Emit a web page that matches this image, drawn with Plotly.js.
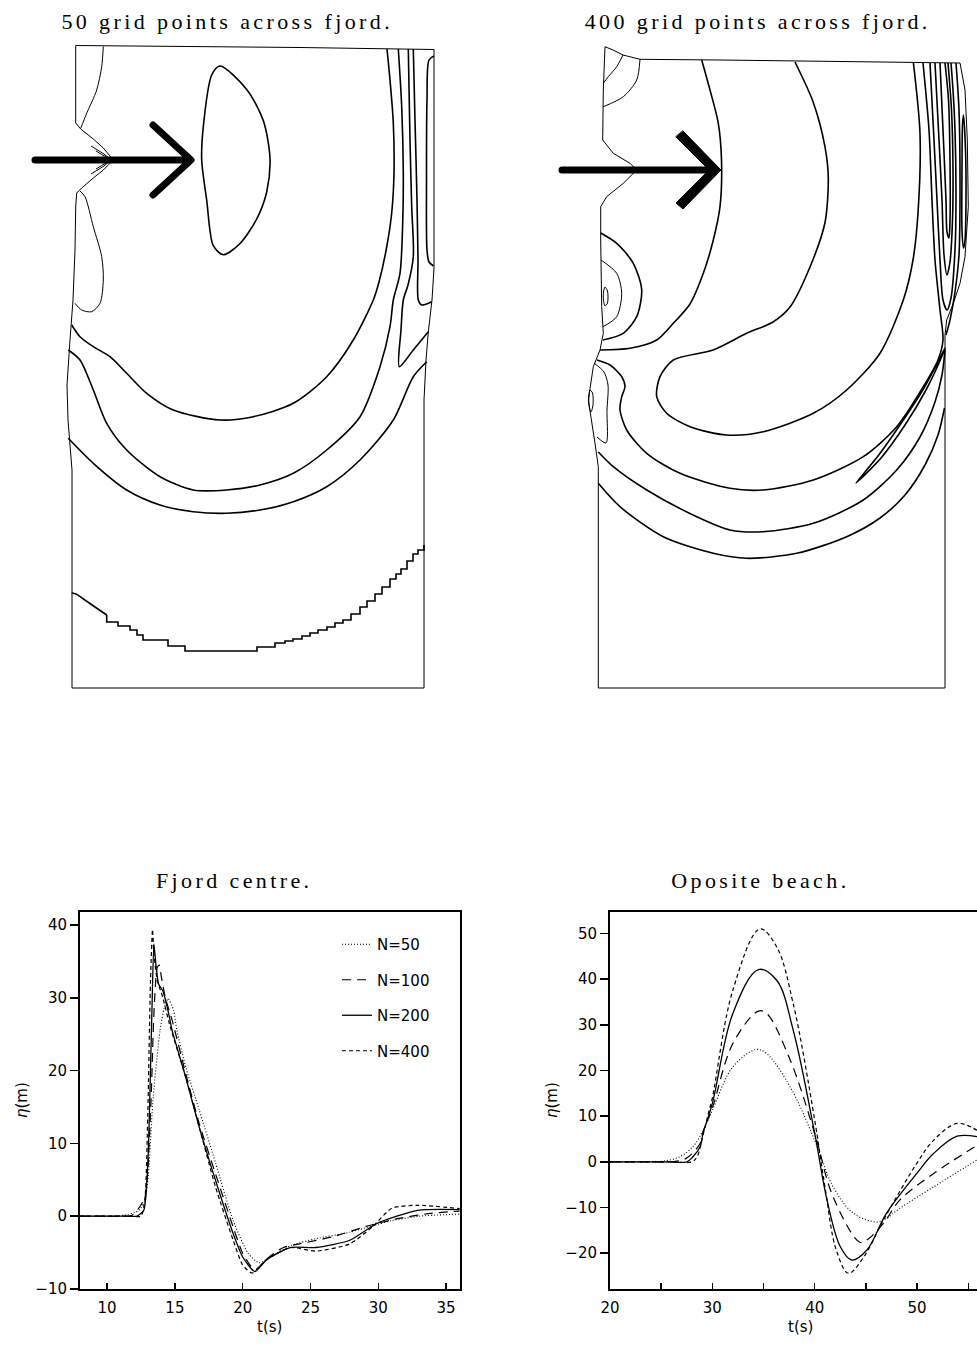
<!DOCTYPE html>
<html><head><meta charset="utf-8">
<script src="https://cdn.plot.ly/plotly-3.0.1.min.js"></script>
<style>
html,body{margin:0;padding:0;background:#fff;}
#chart{width:977px;height:1347px;}
.shapelayer path{stroke-linecap:round;stroke-linejoin:round;}
</style></head><body><div id="chart"></div><script>
// ---------- Time series: Fjord centre ----------
const t50_fc = [8,10.5,11.5,12.0,12.4,12.8,13.05,13.4,13.9,14.2,14.5,14.9,15.15,15.8,16.8,18.0,19.3,20.4,21.2,22.4,23.6,25.4,27.9,29.6,31,33,36];
const eta50_fc = [0,0,0.2,0.5,0.9,2.2,5.9,16.4,25.5,28.5,29.9,28.3,25.5,20.5,14.6,7.3,-0.6,-5.1,-6.4,-5.2,-4.0,-3.1,-2.2,-1.3,-0.6,0,0.3];
const t100_fc = [8,10,11,11.8,12.3,12.8,13.2,13.45,13.7,13.85,14.0,14.3,14.8,15.8,16.8,18.0,19.3,20.0,20.75,21.0,21.75,23.0,24.2,26.7,29.1,31.5,33.9,36];
const eta100_fc = [0,0,0,0.1,1.0,2.7,14,27.8,34.2,34.5,32.9,30,26.9,19.6,12.7,5.8,-1.5,-5.1,-7.2,-7.3,-5.9,-4.3,-3.8,-2.8,-1.4,-0.3,0.4,0.7];
const t200_fc = [8,10,11.5,12.2,12.7,13.0,13.3,13.45,13.6,13.8,14.1,14.5,14.8,15.8,16.8,18.0,19.3,20.0,20.9,21.75,23.5,25.4,27.9,29.9,32.9,36];
const eta200_fc = [0,0,0,0,0.8,7.2,27.8,37.4,34.6,31.9,31.0,28.2,25.5,19.1,12.2,4.9,-2.4,-5.6,-7.6,-6.0,-4.3,-4.3,-3.3,-1.0,0.8,0.9];
const t400_fc = [8,10,11.8,12.5,12.8,13.0,13.2,13.35,13.45,13.7,14.1,14.6,15.8,16.8,18.0,19.3,20.0,20.7,21.75,23.5,25.4,27.9,29.6,31.0,32.9,36];
const eta400_fc = [0,0,0,0,2.7,14,32.4,39.4,36.1,32.4,30.1,26.4,19.1,12.2,4.0,-3.3,-6.7,-7.8,-6.0,-4.3,-4.8,-3.8,-1.4,1.1,1.5,1.05];

// ---------- Time series: Opposite beach ----------
const t50_ob = [20,23,25,26.8,28.1,29.1,30,32,34.3,35.3,37.6,40,41.8,43.8,46.1,47,48.3,51.6,55.85];
const eta50_ob = [0,0,0.1,1.1,3.3,6.9,11.3,20.8,24.6,23.7,16.4,4.7,-5.5,-11.3,-13.2,-12.4,-10.2,-5.5,0.4];
const t100_ob = [20,24,26,27.4,28.8,29.1,30,32,34.5,35.3,37.6,40,41.8,44.4,45.1,46.7,48.3,51.6,55.85];
const eta100_ob = [0,0,0,0.7,4.0,6.6,11.8,25.9,33.0,32.5,22.3,6.2,-7.7,-17.6,-17.1,-13.5,-8.4,-2.6,3.6];
const t200_ob = [20,25.5,27.5,28.1,28.8,29.1,30,32,34.5,36.3,37.9,40,41.2,42.5,43.6,45.1,47,49.95,51.6,53.9,55.85];
const eta200_ob = [0,0,0,1.1,3.3,6.3,12.8,32.5,42.1,39.7,28.8,6.2,-8.4,-18.6,-21.5,-19.3,-11.3,-2.6,1.8,5.6,5.5];
const t400_ob = [20,26,28,28.5,29.1,29.6,30,32,34.65,36.3,37.9,40,41,42.1,43.3,44.8,46.7,49.95,51.6,53.9,55.85];
const eta400_ob = [0,0,0,1.1,6.0,10.5,14,37.6,51,47,34.6,9.1,-5.5,-19.3,-24.4,-20.8,-12.8,-0.4,4.7,8.4,6.9];

const seriesNames = ['N=50','N=100','N=200','N=400'];
const fcT = [t50_fc,t100_fc,t200_fc,t400_fc];
const fcE = [eta50_fc,eta100_fc,eta200_fc,eta400_fc];
const obT = [t50_ob,t100_ob,t200_ob,t400_ob];
const obE = [eta50_ob,eta100_ob,eta200_ob,eta400_ob];

const fcTicks = [-10,0,10,20,30,40];
const obTicks = [-20,-10,0,10,20,30,40,50];
const fcXTicks = [10,15,20,25,30,35];
const obXTicks = [20,25,30,35,40,45,50,55];
const obXText = ['20','','30','','40','','50',''];

// ---------- Contour maps (map coordinates, x across, y down) ----------
// N=50 panel
const outline50 = [[75.7,45.5],[200,46.5],[300,47.5],[434,49.5],[434,150],[434,268],[432,300],[428.3,332],[426,360],[424,400],[424,688],[72,688],[72,560],[72,470],[68,420],[67,385],[70,340],[73,300],[75,250],[75.7,207],[76.7,193],[81.7,188],[93.3,178],[103.3,170],[113.3,160],[103.3,148],[93.3,139],[80.7,129],[75.7,123],[75.7,45.5]];
const topLine50 = [[103.3,46.5],[101.7,66.7],[96.7,90],[86.7,113.3],[80.7,128.3]];
const lobe50 = [[80,191],[85,196.7],[93.3,226.7],[101.7,256.7],[103.3,280],[100,303.3],[91.7,311.7],[81.7,310],[75,303.3]];
const notch50a = [[91,146],[104,154],[111,160],[104,166],[91,174]];
const notch50b = [[96,151],[106,157],[109,160],[106,163],[96,169]];
const oval50 = [[220,66],[246.7,89.4],[263.3,120.6],[270,158.6],[266.7,192],[256.7,219],[240,243.5],[223.3,254.7],[213.3,245.7],[206.7,200],[201.7,160],[203.3,126.7],[211.7,75],[220,66]];
const arc1_50 = [[387,49],[390,80],[393.3,123],[394,173],[391.7,213],[386.7,247],[379,282],[373.3,300],[353.3,340],[326.7,376.7],[293.3,403.3],[253.3,416.7],[220,420],[173.3,410],[146.7,393.3],[126.7,373.3],[110,356.7],[93.3,346.7],[80,336.7],[71.7,325]];
const arc2_50 = [[398.3,49],[401.7,106.7],[403.3,173.3],[402.7,223.3],[400,273.3],[393.3,300],[390,326.7],[380,366.7],[360,416.7],[326.7,450],[293.3,473.3],[260,485],[226.7,490],[193.3,490],[160,476.7],[126.7,450],[106.7,423.3],[93.3,390],[80,360],[68.3,350]];
const arc3_50 = [[68.3,438.3],[93.3,463.3],[126.7,490],[160,505],[193.3,511.7],[226.7,513.3],[260,510],[293.3,501.7],[326.7,486.7],[360,460],[393.3,420],[413.3,376.7],[426.7,361.7]];
const vLine50 = [[408.3,49],[410,140],[411.7,206.7],[413.3,256.7],[408,285],[403.3,300],[401,330],[399.3,366.7],[413.3,350],[428.3,331.7]];
const dLine50 = [[413.3,49],[415,120],[417,200],[418,260],[418.3,300],[421.7,305],[431.7,301.7]];
const uLine50 = [[434,56],[429,60],[427,100],[426.5,180],[427,250],[429,262],[433.5,266]];
const stairA50 = [[71.7,593],[76,594],[82,598],[95,607],[106.7,615]];
const stairB50 = [[106.7,615],[106.7,622],[118,626],[130,630],[137,635],[143,640],[160,640],[168,646],[185,651],[257,651],[257,647],[275,643],[285,641],[293,639],[302,636],[310,633],[318,630],[327,627],[335,623],[343,620],[351,614],[360,607],[367,601],[375,594],[382,587],[390,579],[396,574],[401,569],[407,561],[413,554],[418,550],[424,545]];

// N=400 panel
const outline400 = [[605,46.7],[613,50],[623,55],[640,59.3],[720,60],[800,61],[900,62],[960,63],[965,90],[967.3,140],[968.3,206.7],[965,256.7],[960,283.3],[953.3,303.3],[946.7,320],[945,335],[945,688],[598.3,688],[598.3,510],[598.3,466.7],[595,443.3],[591.7,420],[588.3,400],[593.3,366.7],[600,350],[603.3,333.3],[601.7,306.7],[600.7,240],[600.7,206.7],[606.7,196.7],[623.3,183.3],[636.7,170],[630,163.3],[613.3,153.3],[602.7,140],[603.3,90],[605,46.7]];
const corner400a = [[640,59.3],[636.7,80],[623.3,96.7],[603.3,106.7]];
const corner400b = [[623,55],[616.7,66.7],[608.3,76.7],[603.3,83.3]];
const arcR1 = [[701.7,60],[710,90],[718.3,123.3],[721.5,160],[720,206.7],[713.3,240],[703.3,273.3],[690,304],[673.3,323.3],[656.7,340],[630,348.3],[600,350]];
const kidney = [[795,62],[813.3,102.4],[825,146.9],[828.3,178],[825,222.5],[810,267],[790,307],[773,322],[746.7,333.3],[713.3,350],[673.3,360],[660,376.7],[656.7,396.7],[666.7,413.3],[690,426.7],[726.7,435],[763.3,431.7],[813.3,413.3],[846.7,390],[880,353.3],[903.3,300],[913,260],[918,213],[920,133.5],[913.3,62]];
const lobeOut400 = [[600.7,233],[616.7,243.3],[633.3,263.3],[641.7,290],[636.7,316.7],[623.3,333.3],[603,340]];
const lobeIn400 = [[601,260],[616.7,273.3],[621.7,293.3],[616.7,316.7],[603,326.7]];
const lobeDot400 = [[605,287],[607.5,291],[607.5,303],[605,306],[603.5,300],[603.5,292],[605,287]];
const arcR3 = [[597,360],[610,365],[621.7,376.7],[625,386.7],[621.7,396.7],[620,410],[626.7,430],[646.7,453.3],[680,473.3],[730,488.3],[763.3,490],[813.3,480],[863.3,456.7],[896.7,426.7],[923.3,386.7],[938,360],[943,340],[940,310],[935,260],[932,200],[929,130],[923,63]];
const box400 = [[594,363],[604,372],[608,385],[607,410],[606,443],[597,437]];
const boxDot400 = [[590,390],[592.5,393],[593,405],[591,412],[589,405],[589,395],[590,390]];
const arcR4 = [[598.3,452],[613.3,466.7],[646.7,490],[696.7,516.7],[730,530],[763.3,531.7],[813.3,523.3],[863.3,500],[896.7,470],[920,437],[935,402],[942,375],[945,350]];
const arcR5 = [[598.3,483.3],[620,506.7],[663.3,536.7],[713.3,553.3],[746.7,558.3],[796.7,553.3],[846.7,536.7],[880,518],[905,495],[925,465],[938,435],[944.5,408]];
const sliver400 = [[856,483],[878,456],[902,422],[924,388],[940,358],[945,348],[942,356],[926,390],[905,425],[881,458],[856,483]];
const u1_400 = [[930,63],[934,140],[937,200],[940,260],[943,300],[947,310],[951,298],[955,250],[956,200],[955,130],[953,90],[951,63]];
const u2_400 = [[935,63],[939,140],[942,200],[944,255],[947,275],[950,262],[952.5,220],[953,170],[951.5,110],[948,63]];
const u3_400 = [[940,63],[943,130],[946,200],[947,232],[949,238],[950,220],[950,160],[948.5,100],[945,63]];
const v1_400 = [[956,63],[959,110],[960,200],[959,255],[955,292],[950,320],[946,335]];
const oval400 = [[963.5,115],[965.5,150],[966,200],[965,240],[963.5,248],[962,230],[962,170],[962.5,125],[963.5,115]];

// ---------- build ----------
const W = 977, H = 1347;
const fx = v => v / W;
const fy = v => 1 - v / H;

const dashes = ['1px,2px', '9px,6px', 'solid', '4px,3px'];
const widths = [1.1, 1.2, 1.3, 1.2];

const data = [];
for (let i = 0; i < 4; i++) {
  data.push({x: fcT[i], y: fcE[i], xaxis:'x', yaxis:'y', mode:'lines', name: seriesNames[i],
    legendgroup:'g'+i, line:{color:'#000', width:widths[i], dash:dashes[i], shape:'spline', smoothing:0.6}, hoverinfo:'skip'});
}
for (let i = 0; i < 4; i++) {
  data.push({x: obT[i], y: obE[i], xaxis:'x2', yaxis:'y2', mode:'lines', name: seriesNames[i],
    legendgroup:'g'+i, showlegend:false, line:{color:'#000', width:widths[i], dash:dashes[i], shape:'spline', smoothing:1}, hoverinfo:'skip'});
}
function mapLine(arr, w, shape, sm) {
  const line = {color:'#000', width:w, shape: shape || 'linear'};
  if (shape === 'spline') line.smoothing = sm;
  return {x: arr.map(p => p[0]), y: arr.map(p => p[1]), xaxis:'x3', yaxis:'y3', mode:'lines',
    line: line, hoverinfo:'skip', showlegend:false};
}
const outlines = [outline50, outline400, notch50a, notch50b];
const thinCurves = [topLine50, lobe50, corner400a, corner400b, lobeIn400, lobeDot400, box400, boxDot400];
const boldCurves = [oval50, arc1_50, arc2_50, arc3_50, vLine50, dLine50, uLine50, stairA50,
              arcR1, kidney, lobeOut400, arcR3, arcR4, arcR5, sliver400, u1_400, u2_400, u3_400, v1_400, oval400];
outlines.forEach(a => data.push(mapLine(a, 1)));
thinCurves.forEach(a => data.push(mapLine(a, 1, 'spline', 0.8)));
boldCurves.forEach(a => data.push(mapLine(a, 1.6, 'spline', 0.8)));
data.push(mapLine(stairB50, 1.6, 'hv'));

const tickFont = {family:'DejaVu Sans', size:15, color:'#000'};
const axBase = {showgrid:false, zeroline:false, showline:true, linewidth:2, linecolor:'#000',
  tickcolor:'#000', tickwidth:1.5, tickfont:tickFont, fixedrange:true};
const titleFont = {family:'Liberation Serif', size:22, color:'#000'};

const layout = {
  width: W, height: H, margin:{l:0, r:0, t:0, b:0},
  paper_bgcolor:'#fff', plot_bgcolor:'rgba(0,0,0,0)',
  font:{family:'DejaVu Sans', size:14, color:'#000'},
  showlegend:true,
  legend:{x: fx(337), y: fy(928), xanchor:'left', yanchor:'top', bgcolor:'rgba(0,0,0,0)',
    font:{family:'DejaVu Sans', size:15, color:'#000'}, traceorder:'grouped', tracegroupgap:13, itemwidth:30},
  xaxis: Object.assign({}, axBase, {domain:[fx(80), fx(460)], range:[8, 36.03], tickvals:fcXTicks,
    ticks:'inside', ticklen:6, mirror:true, anchor:'y', ticklabelstandoff:4}),
  yaxis: Object.assign({}, axBase, {domain:[fy(1289), fy(912)], range:[-10, 41.8], tickvals:fcTicks,
    ticks:'outside', ticklen:8, mirror:true, anchor:'x'}),
  xaxis2: Object.assign({}, axBase, {domain:[fx(610), 1], range:[20, 55.85], tickvals:obXTicks, ticktext:obXText,
    ticks:'inside', ticklen:6, mirror:true, anchor:'y2', ticklabelstandoff:4}),
  yaxis2: Object.assign({}, axBase, {domain:[fy(1289), fy(912)], range:[-27.85, 54.7], tickvals:obTicks,
    ticks:'outside', ticklen:8, mirror:false, anchor:'x2'}),
  xaxis3: {domain:[0,1], range:[0, W], visible:false, fixedrange:true, anchor:'y3'},
  yaxis3: {domain:[fy(700), 1], range:[700, 0], visible:false, fixedrange:true, anchor:'x3'},
  shapes: [
    {type:'path', xref:'x3', yref:'y3', path:'M35,160 L190,160 M153,125 L191,160 L153,195', line:{color:'#000', width:7}},
    {type:'path', xref:'x3', yref:'y3', path:'M562,170 L712,170', line:{color:'#000', width:7}},
    {type:'path', xref:'x3', yref:'y3', path:'M683,131 L721,170 L683,209 L676,203 L709,170 L676,137 Z', fillcolor:'#000', line:{color:'#000', width:1}}
  ],
  annotations: [
    {text:'50 grid points across fjord.', x:fx(227), y:fy(22), font:titleFont},
    {text:'400 grid points across fjord.', x:fx(757), y:fy(22), font:titleFont},
    {text:'Fjord centre.', x:fx(234), y:fy(880), font:titleFont},
    {text:'Oposite beach.', x:fx(760), y:fy(880), font:titleFont},
    {text:'<i>η</i>(m)', x:fx(22), y:fy(1100), textangle:-90, font:tickFont},
    {text:'<i>η</i>(m)', x:fx(552), y:fy(1100), textangle:-90, font:tickFont},
    {text:'t(s)', x:fx(269), y:fy(1327), font:tickFont},
    {text:'t(s)', x:fx(800), y:fy(1327), font:tickFont}
  ].map(a => Object.assign({xref:'paper', yref:'paper', showarrow:false, xanchor:'center', yanchor:'middle'}, a))
};

Plotly.newPlot('chart', data, layout, {staticPlot:true, displayModeBar:false}).then(() => {
  document.querySelectorAll('.annotation-text').forEach(t => {
    if (!t.textContent.trim().endsWith('.')) return;
    const b0 = t.getBBox();
    const c0 = b0.x + b0.width / 2;
    t.style.letterSpacing = '3.4px';
    const b1 = t.getBBox();
    const c1 = b1.x + b1.width / 2;
    const x = parseFloat(t.getAttribute('x') || '0');
    t.setAttribute('x', String(x - (c1 - c0)));
  });
});
</script></body></html>
